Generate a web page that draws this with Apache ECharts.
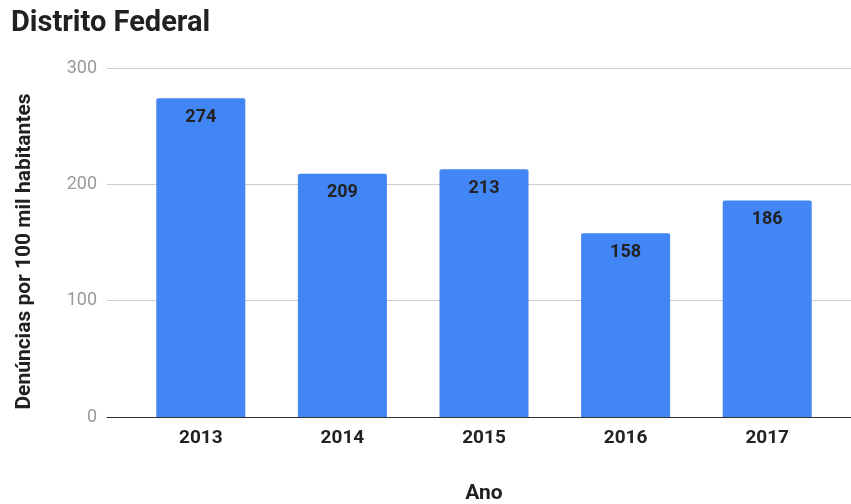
<!DOCTYPE html>
<html>
<head>
<meta charset="utf-8">
<script src="https://cdn.jsdelivr.net/npm/echarts@6/dist/echarts.min.js"></script>
<style>
  html, body { margin: 0; padding: 0; background: #fff; }
  #chart { width: 851px; height: 504px; }
</style>
</head>
<body>
<div id="chart"></div>
<script>
var anos = ['2013', '2014', '2015', '2016', '2017'];
var denuncias = [274, 209, 213, 158, 186];
var yTicks = [0, 100, 200, 300];

var myChart = echarts.init(document.getElementById('chart'));
var fonte = 'Roboto, "Noto Sans", sans-serif';

var option = {
    backgroundColor: '#fff',
    textStyle: { fontFamily: fonte },
    title: {
        text: 'Distrito Federal',
        left: 6,
        top: 4,
        textStyle: { fontFamily: fonte, fontSize: 29, fontWeight: 'bold', color: '#212121' }
    },
    grid: [
        // grid of the bars
        { left: 130, right: 13, top: 68, bottom: 87, outerBoundsMode: 'none', containLabel: false },
        // grid that carries the gridlines and y labels, wider
        { left: 107, right: 0, top: 68, bottom: 87, outerBoundsMode: 'none', containLabel: false }
    ],
    xAxis: [
        {
            gridIndex: 0,
            type: 'category',
            data: anos,
            name: 'Ano',
            nameLocation: 'middle',
            nameGap: 66,
            nameTextStyle: { fontFamily: fonte, fontSize: 21, fontWeight: 'bold', color: '#212121' },
            axisLine: { show: false },
            axisTick: { show: false },
            axisLabel: { margin: 12, fontFamily: fonte, fontSize: 19, fontWeight: 'bold', color: '#222' }
        },
        {
            gridIndex: 1,
            type: 'value',
            min: 0,
            max: 1,
            axisLine: { show: true, lineStyle: { color: '#333', width: 1 } },
            axisTick: { show: false },
            axisLabel: { show: false },
            splitLine: { show: false }
        }
    ],
    yAxis: [
        {
            gridIndex: 0,
            type: 'value',
            min: yTicks[0],
            max: yTicks[yTicks.length - 1],
            interval: 100,
            axisLine: { show: false },
            axisTick: { show: false },
            axisLabel: { show: false },
            splitLine: { show: false }
        },
        {
            gridIndex: 1,
            type: 'value',
            min: yTicks[0],
            max: yTicks[yTicks.length - 1],
            interval: 100,
            name: 'Denúncias por 100 mil habitantes',
            nameLocation: 'middle',
            nameGap: 72,
            nameTextStyle: {
                fontFamily: fonte, fontSize: 21, fontWeight: 'bold', color: '#212121',
                padding: [0, 18, 0, 0]
            },
            axisLine: { show: false },
            axisTick: { show: false },
            axisLabel: { margin: 10, fontFamily: fonte, fontSize: 18, color: '#9a9a9a' },
            splitLine: { show: true, lineStyle: { color: '#cccccc', width: 1 } }
        }
    ],
    series: [{
        type: 'bar',
        xAxisIndex: 0,
        yAxisIndex: 0,
        data: denuncias,
        barWidth: 89,
        z: 3,
        itemStyle: { color: '#4285f4', borderRadius: [2, 2, 0, 0] },
        label: {
            show: true,
            position: 'insideTop',
            distance: 10,
            fontFamily: fonte,
            fontSize: 18,
            fontWeight: 'bold',
            color: '#222'
        }
    }]
};

myChart.setOption(option);
</script>
</body>
</html>
